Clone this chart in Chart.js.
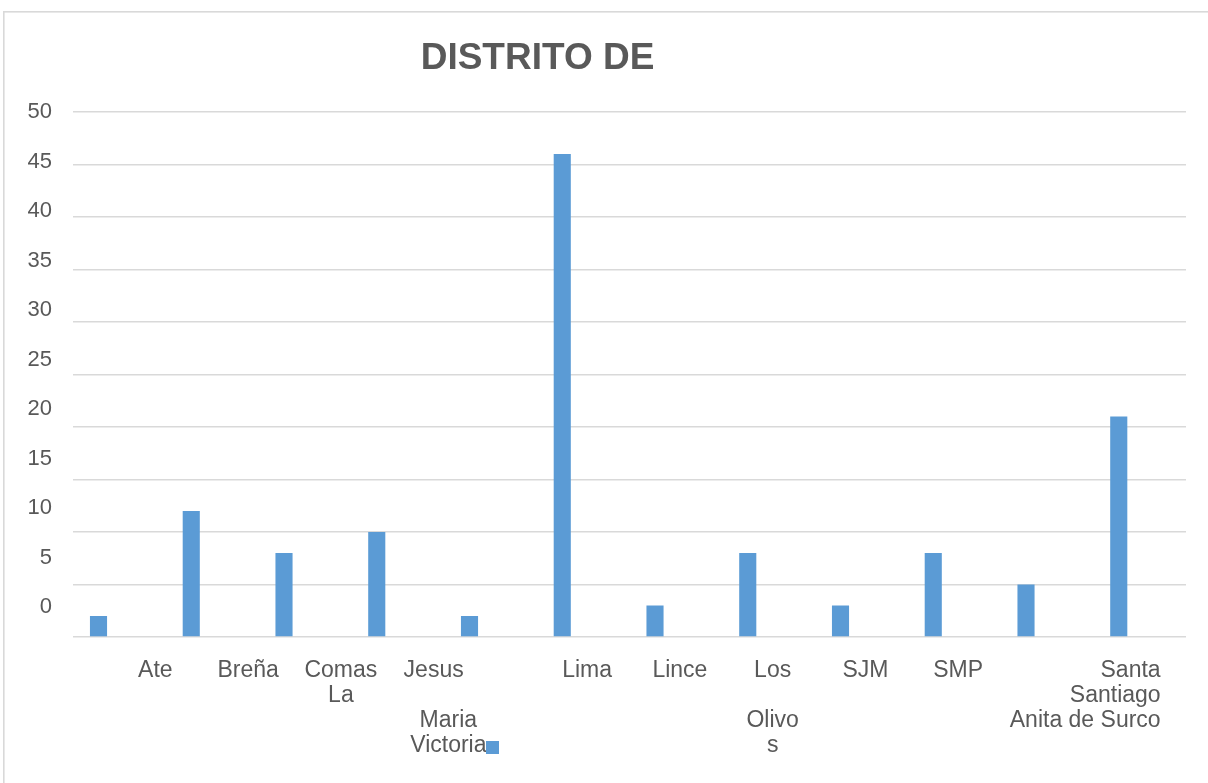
<!DOCTYPE html>
<html>
<head>
<meta charset="utf-8">
<script src="https://cdn.jsdelivr.net/npm/chart.js@4/dist/chart.umd.min.js"></script>
<style>
  html, body { margin: 0; padding: 0; background: #ffffff; }
  #wrap { position: relative; width: 1208px; height: 783px; }
</style>
</head>
<body>
<div id="wrap"><canvas id="c"></canvas></div>
<script>
// ---- data ----
const chartTitle = 'DISTRITO DE';
const categories = ['Ate', 'Breña', 'Comas', 'Jesus Maria', 'La Victoria', 'Lima', 'Lince',
                    'Los Olivos', 'SJM', 'SMP', 'Santa Anita', 'Santiago de Surco'];
const values = [2, 12, 8, 10, 2, 46, 3, 8, 3, 8, 5, 21];
const emptySeries = [null, null, null, null, null, null, null, null, null, null, null, null];
const yTickLabels = ['0', '5', '10', '15', '20', '25', '30', '35', '40', '45', '50'];

// category label lines as they appear in the picture
const rowsRegular = [['Ate'], ['Breña'], ['Comas', 'La'], ['Jesus'], [], [], [], [], [], [], [], []];
const rowsRegularLow = [[], [], [], [], ['', '', 'Maria', 'Victoria'], [], [], [], [], [], [], []];
const rowsNarrow = [[], [], [], [], [], ['Lima'], ['Lince'], ['Los', '', 'Olivo', 's'], ['SJM'], ['SMP'], [], []];
const rowsNarrowEnd = [[], [], [], [], [], [], [], [], [], [], [], ['Santa', 'Santiago', 'Anita de Surco']];

// ---- styles ----
const TEXT = '#595959';
const BAR = '#5b9bd5';
const GRID = '#d9d9d9';
const REG = "'Liberation Sans', Arial, sans-serif";
const NARROW = "'Liberation Sans Narrow', 'Arial Narrow', 'Liberation Sans', Arial, sans-serif";

function labelAxis(rows, family, labelOffset, align) {
  return {
    type: 'category',
    labels: categories,
    position: 'bottom',
    offset: true,
    grid: { display: false, drawTicks: false },
    border: { display: false },
    ticks: {
      autoSkip: false, maxRotation: 0, minRotation: 0,
      padding: 21.5, labelOffset: labelOffset, align: align || 'center',
      color: TEXT,
      font: { family: family, size: 23, lineHeight: '25px' },
      callback: (v, i) => rows[i].length ? rows[i] : ''
    },
    afterFit: s => { s.height = 0; }
  };
}

const framePlugin = {
  id: 'frame',
  afterLayout(chart) {
    // axes were fitted with zero size so they overlap; give them room to draw labels
    const ca = chart.chartArea;
    Object.values(chart.scales).forEach(s => {
      if (s.isHorizontal()) {
        s.top = ca.bottom; s.bottom = chart.height; s.height = s.bottom - s.top;
      } else {
        s.right = ca.left; s.left = 0; s.width = s.right - s.left;
      }
    });
  },
  beforeDraw(chart) {
    const ctx = chart.ctx;
    ctx.save();
    ctx.strokeStyle = GRID;
    ctx.lineWidth = 1.6;
    ctx.strokeRect(3.8, 11.8, 1400, 1000);
    ctx.restore();
  },
  afterDraw(chart) {
    const ctx = chart.ctx;
    ctx.save();
    // title
    ctx.fillStyle = TEXT;
    ctx.font = "bold 37px " + REG;
    ctx.textAlign = 'center';
    ctx.textBaseline = 'middle';
    ctx.fillText(chartTitle, 537.5, 59);
    // legend marker (series name is empty in the picture)
    ctx.fillStyle = chart.data.datasets[0].backgroundColor;
    ctx.fillRect(486, 741, 13, 13);
    ctx.restore();
  }
};

new Chart(document.getElementById('c'), {
  type: 'bar',
  data: {
    labels: categories,
    datasets: [
      { label: '', data: values, backgroundColor: BAR, borderWidth: 0,
        barPercentage: 0.41, categoryPercentage: 0.9 },
      { label: '', data: emptySeries, backgroundColor: BAR, borderWidth: 0,
        barPercentage: 0.41, categoryPercentage: 0.9 }
    ]
  },
  options: {
    responsive: true,
    maintainAspectRatio: false,
    devicePixelRatio: 1,
    animation: false,
    layout: { padding: { left: 73, right: 22, top: 112, bottom: 146 } },
    plugins: {
      legend: { display: false },
      title: { display: false },
      tooltip: { enabled: false }
    },
    scales: {
      x: labelAxis(rowsNarrow, NARROW, 4, 'center'),
      xA: labelAxis(rowsRegular, REG, 36, 'center'),
      xM: labelAxis(rowsRegularLow, REG, -42, 'center'),
      xS: labelAxis(rowsNarrowEnd, NARROW, 21, 'end'),
      y: {
        type: 'linear', position: 'left', min: 0, max: 50,
        ticks: { display: false, stepSize: 5 },
        grid: { color: GRID, lineWidth: 1.4, drawTicks: false },
        border: { display: false },
        afterFit: s => { s.width = 0; }
      },
      yLab: {
        type: 'linear', position: 'left', min: -3.03, max: 50,
        grid: { display: false, drawTicks: false },
        border: { display: false },
        afterBuildTicks: s => { s.ticks = yTickLabels.map(t => ({ value: Number(t) })); },
        ticks: {
          padding: 21, color: TEXT,
          font: { family: REG, size: 22 },
          callback: v => yTickLabels[yTickLabels.indexOf(String(v))]
        },
        afterFit: s => { s.width = 0; }
      }
    }
  },
  plugins: [framePlugin]
});
</script>
</body>
</html>
